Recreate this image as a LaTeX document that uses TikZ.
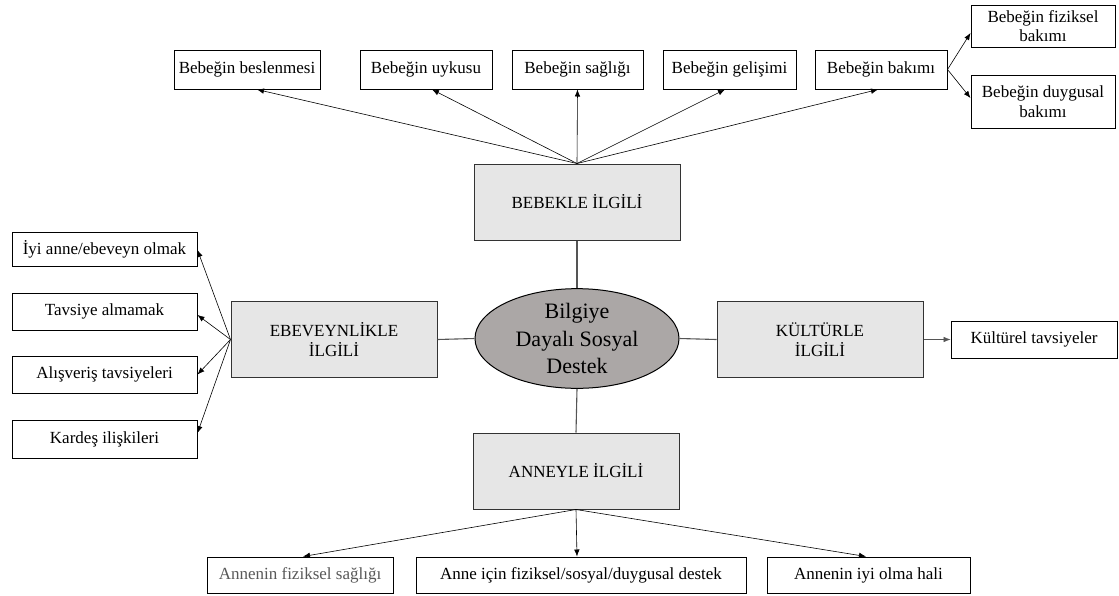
\documentclass[tikz,border=0pt]{standalone}
\usepackage{fontspec}
\setmainfont{Liberation Serif}
\usetikzlibrary{arrows.meta,shapes.geometric}

\definecolor{coreGray}{HTML}{ABA7A6}
\definecolor{topicGray}{HTML}{E6E6E6}
\definecolor{linkGray}{HTML}{555555}
\definecolor{softText}{HTML}{595959}

\tikzset{
  leaf/.style={draw=black, line width=1pt, fill=white, inner sep=0pt,
    align=center, font=\fontsize{17}{19.5}\selectfont},
  topic/.style={draw=black!80, line width=1pt, fill=topicGray, inner sep=0pt,
    align=center, minimum width=206pt, minimum height=76pt,
    font=\fontsize{17}{19.5}\selectfont},
  core/.style={ellipse, draw=black, line width=1pt, fill=coreGray, inner sep=0pt,
    minimum width=204pt, minimum height=89pt, align=center,
    font=\fontsize{22}{27.5}\selectfont},
  link/.style={draw=linkGray, line width=1.1pt},
  branch/.style={draw=black, line width=0.6pt, -{Latex[length=7pt,width=5.5pt]}},
}

\begin{document}
\begin{tikzpicture}[x=1pt,y=-1pt]
\useasboundingbox (0,0) rectangle (1119,595);

% centre and the four topic boxes
\node[core]  (core)   at (577,338.5) {Bilgiye\\Dayalı Sosyal\\Destek};
\node[topic] (bebek)  at (577,202)   {BEBEKLE İLGİLİ};
\node[topic] (ebev)   at (334,339.5) {EBEVEYNLİKLE\\İLGİLİ};
\node[topic] (kultur) at (820,339.5) {KÜLTÜRLE\\İLGİLİ};
\node[topic] (anne)   at (576,471)   {ANNEYLE İLGİLİ};

% baby-related items
\node[leaf, minimum width=146pt, minimum height=39pt] (n1) at (247,69.5)   {Bebeğin beslenmesi};
\node[leaf, minimum width=132pt, minimum height=39pt] (n2) at (426,69.5)   {Bebeğin uykusu};
\node[leaf, minimum width=131pt, minimum height=39pt] (n3) at (577.5,69.5) {Bebeğin sağlığı};
\node[leaf, minimum width=133pt, minimum height=39pt] (n4) at (729.5,69.5) {Bebeğin gelişimi};
\node[leaf, minimum width=132pt, minimum height=39pt] (n5) at (881,69.5)   {Bebeğin bakımı};
\node[leaf, minimum width=144pt, minimum height=42pt] (n6) at (1043,26)    {Bebeğin fiziksel\\bakımı};
\node[leaf, minimum width=144pt, minimum height=53pt] (n7) at (1043,101.5) {Bebeğin duygusal\\bakımı};

% parenting items
\node[leaf, minimum width=185pt, minimum height=34pt] (l1) at (104.5,249)   {İyi anne/ebeveyn olmak};
\node[leaf, minimum width=185pt, minimum height=37pt] (l2) at (104.5,311.5) {Tavsiye almamak};
\node[leaf, minimum width=185pt, minimum height=37pt] (l3) at (104.5,374.5) {Alışveriş tavsiyeleri};
\node[leaf, minimum width=185pt, minimum height=38pt] (l4) at (104.5,439)   {Kardeş ilişkileri};

% culture item
\node[leaf, minimum width=166pt, minimum height=37pt] (kt) at (1034,339.5) {Kültürel tavsiyeler};

% mother-related items
\node[leaf, minimum width=186pt, minimum height=36pt, text=softText] (b1) at (300,575) {Annenin fiziksel sağlığı};
\node[leaf, minimum width=330pt, minimum height=36pt] (b2) at (581,575)   {Anne için fiziksel/sosyal/duygusal destek};
\node[leaf, minimum width=203pt, minimum height=36pt] (b3) at (868.5,575) {Annenin iyi olma hali};

% links between centre and topics
\draw[link] (bebek.south) -- (core.north);
\draw[link] (ebev.east) -- (core.west);
\draw[link] (core.east) -- (kultur.west);
\draw[link] (core.south) -- (anne.north);

% branches of the baby topic
\draw[branch] (bebek.north) -- ([xshift=10pt]n1.south);
\draw[branch] (bebek.north) -- ([xshift=6pt]n2.south);
\draw[branch] (bebek.north) -- (n3.south);
\draw[branch] (bebek.north) -- ([xshift=-4.5pt]n4.south);
\draw[branch] (bebek.north) -- ([xshift=-3pt]n5.south);
\draw[branch] (n5.east) -- ([yshift=-7pt]n6.west);
\draw[branch] (n5.east) -- ([yshift=3.5pt]n7.west);

% branches of the parenting topic
\draw[branch] (ebev.west) -- ([yshift=-1pt]l1.east);
\draw[branch] (ebev.west) -- ([yshift=-3.5pt]l2.east);
\draw[branch] (ebev.west) -- (l3.east);
\draw[branch] (ebev.west) -- ([yshift=6pt]l4.east);

% branch of the culture topic
\draw[branch, draw=linkGray] (kultur.east) -- (kt.west);

% branches of the mother topic
\draw[branch] (anne.south) -- ([xshift=3pt]b1.north);
\draw[branch] (anne.south) -- ([xshift=-4pt]b2.north);
\draw[branch] (anne.south) -- ([xshift=-2.5pt]b3.north);
\end{tikzpicture}
\end{document}
